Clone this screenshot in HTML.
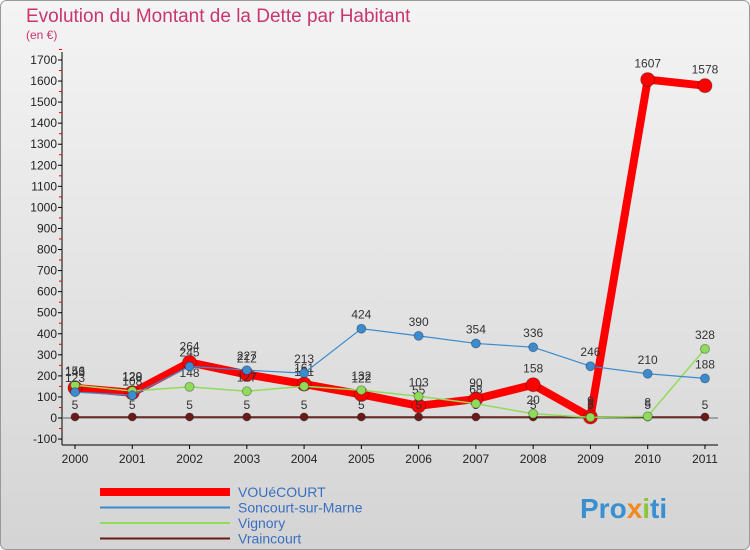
<!DOCTYPE html>
<html><head><meta charset="utf-8"><style>
body{margin:0;background:#fff;font-family:"Liberation Sans",sans-serif}
#wrap{position:relative;width:750px;height:550px;overflow:hidden}
</style></head><body>
<div id="wrap">
<svg id="svg" width="750" height="550" xmlns="http://www.w3.org/2000/svg">
<defs><linearGradient id="bg" x1="0" y1="0" x2="0" y2="1"><stop offset="0" stop-color="#f4f4f4"/><stop offset="1" stop-color="#d4d4d4"/></linearGradient></defs>
<rect x="0.5" y="0.5" width="749" height="549" rx="6" fill="url(#bg)" stroke="#999"/>
<text x="26" y="22" font-size="19" fill="#c8366f">Evolution du Montant de la Dette par Habitant</text>
<text x="26" y="39" font-size="12" fill="#c8366f">(en €)</text>
<g id="axes"></g><g id="series"></g>
<g id="legend"></g>
<text x="580" y="518" font-size="28" font-weight="bold" fill="#3a8fd0">Pro<tspan fill="#f08a1e">x</tspan><tspan fill="#8cc43c">i</tspan>ti</text>
</svg>
</div>
<script>
const years=["2000","2001","2002","2003","2004","2005","2006","2007","2008","2009","2010","2011"];
const yTicks=[-100,0,100,200,300,400,500,600,700,800,900,1000,1100,1200,1300,1400,1500,1600,1700];
const vouecourt=[143,120,264,207,161,112,58,90,158,5,1607,1578];
const vouecourtLabels=["143","120","264","212","161","122","55","90","158","9","1607","1578"];
const soncourt=[123,108,245,227,213,424,390,354,336,246,210,188];
const vignory=[156,128,148,127,151,132,103,68,20,3,8,328];
const vraincourt=[5,5,5,5,5,5,5,5,5,5,5,5];
const seriesNames=["VOUéCOURT","Soncourt-sur-Marne","Vignory","Vraincourt"];
const NS="http://www.w3.org/2000/svg";
function X(i){return 75+i*57.27;}
function Y(v){return 418-v*0.2106;}
function mk(tag,attrs,parent){const e=document.createElementNS(NS,tag);for(const k in attrs)e.setAttribute(k,attrs[k]);parent.appendChild(e);return e;}
const ax=document.getElementById('axes'),sg=document.getElementById('series'),lg=document.getElementById('legend');
let l=mk('line',{x1:62,y1:52,x2:62,y2:445,stroke:'#000'},ax);


l=mk('line',{x1:62,y1:Y(0),x2:718,y2:Y(0),stroke:'#666'},ax);


l=mk('line',{x1:62,y1:445,x2:718,y2:445,stroke:'#000'},ax);


yTicks.forEach(v=>{
  const t=mk('text',{x:57,y:Y(v)+4,'text-anchor':'end','font-size':12,fill:'#222'},ax);t.textContent=v;
  
  
  mk('line',{x1:58,y1:Y(v),x2:62,y2:Y(v),stroke:'#000'},ax);
  mk('line',{x1:59,y1:Y(v+50),x2:62,y2:Y(v+50),stroke:'#e00'},ax);
});
years.forEach((y,i)=>{
  const t=mk('text',{x:X(i),y:463,'text-anchor':'middle','font-size':12,fill:'#222'},ax);t.textContent=y;
  
  
  mk('line',{x1:X(i),y1:445,x2:X(i),y2:449,stroke:'#000'},ax);
});
function draw(data,labels,color,w,r,name,labelDy){
  const g=mk('g',{},sg);
  
  
  const p=mk('polyline',{points:data.map((v,i)=>X(i)+','+Y(v)).join(' '),fill:'none',stroke:color,'stroke-width':w,'stroke-linejoin':'round'},g);
  
  
  data.forEach((v,i)=>{
    const c=mk('circle',{cx:X(i),cy:Y(v),r:r,fill:color,stroke:'rgba(0,0,0,0.3)'},g);
    
    
    const t=mk('text',{x:X(i),y:Y(v)+labelDy,'text-anchor':'middle','font-size':12,fill:'#333'},g);t.textContent=labels[i];
    
    
  });
}
draw(vraincourt,vraincourt.map(String),'#6b1a1a',1.5,4,'vraincourt-series',-8);
draw(vignory,vignory.map(String),'#8fdc5a',1.5,4.5,'vignory-series',-10);
draw(soncourt,soncourt.map(String),'#3a8bd0',1.2,4.5,'soncourt-series',-10);
draw(vouecourt,vouecourtLabels,'#ff0000',8,7,'vouecourt-series',-12);
sg.insertBefore(sg.lastChild,sg.children[0]);
const lc=['#ff0000','#3a8bd0','#8fdc5a','#6b1a1a'],lw=[8,2,2,2];
seriesNames.forEach((n,i)=>{
  const yy=492+i*15.5;
  const ln=mk('line',{x1:100,y1:yy,x2:230,y2:yy,stroke:lc[i],'stroke-width':lw[i]},lg);
  
  
  const t=mk('text',{x:238,y:yy+5,'font-size':14,fill:'#3a6fc0'},lg);t.textContent=n;
  
  
});
</script>
</body></html>
